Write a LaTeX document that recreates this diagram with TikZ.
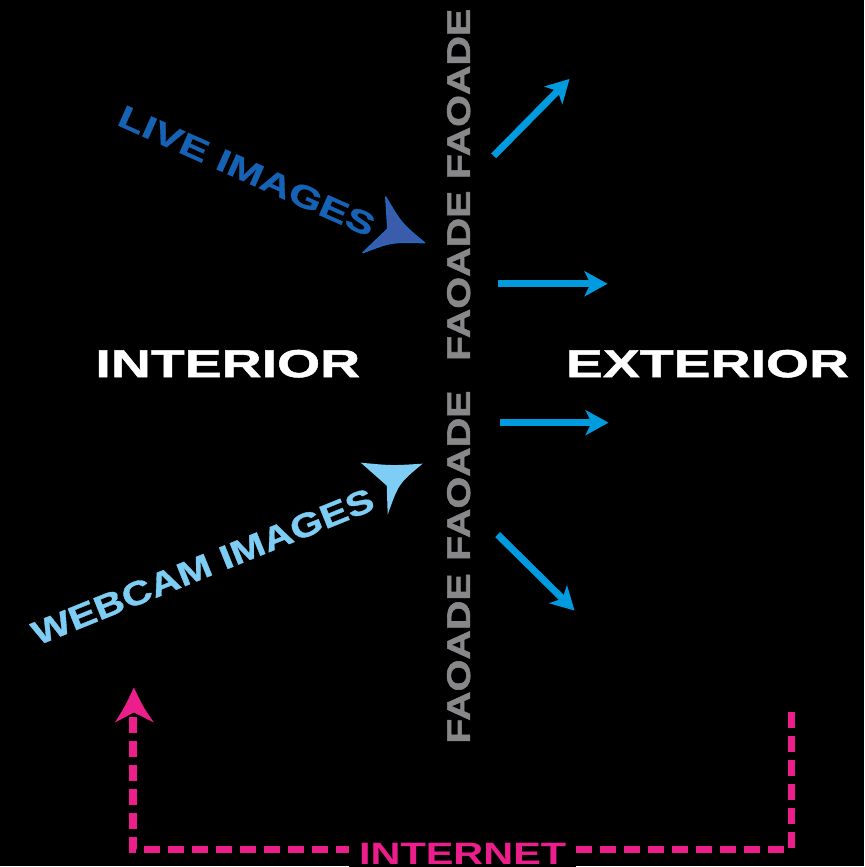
\documentclass[tikz,border=0pt]{standalone}
\usepackage{fontspec}
\usetikzlibrary{arrows.meta}
% wide, extended sans faces for the labels
\newfontfamily\widefont[FakeStretch=1.42,FakeBold=1.3]{Liberation Sans}
\newfontfamily\facadefont[FakeStretch=1.25,FakeBold=1.8]{Liberation Sans}
\newfontfamily\livefont[FakeStretch=1.36,FakeBold=1.0]{Liberation Sans}
\newfontfamily\webfont[FakeStretch=1.24,FakeBold=1.0]{Liberation Sans}
\newfontfamily\netfont[FakeStretch=1.34]{Liberation Sans}

\definecolor{facadegray}{RGB}{136,136,138}
\definecolor{rayblue}{RGB}{0,155,222}
\definecolor{liveblue}{RGB}{22,98,180}
\definecolor{livehead}{RGB}{58,92,170}
\definecolor{liveedge}{RGB}{28,108,198}
\definecolor{webblue}{RGB}{125,205,245}
\definecolor{netpink}{RGB}{236,30,140}

\tikzset{
  roomlabel/.style={text=white, inner sep=0pt,
    font=\widefont\bfseries\fontsize{11.1pt}{13pt}\selectfont},
  facadeword/.style={text=facadegray, inner sep=0pt, rotate=90,
    font=\facadefont\bfseries\fontsize{9.3pt}{11pt}\selectfont},
  ray/.style={draw=rayblue, line width=0.07cm,
    -{Stealth[length=0.23cm, width=0.25cm, inset=0.06cm]}},
  netline/.style={draw=netpink, line width=0.075cm,
    dash pattern=on 0.16cm off 0.08cm},
}

\begin{document}
\begin{tikzpicture}[x=0.01cm, y=-0.01cm]
  % background
  \fill[black] (0,0) rectangle (865,867);

  % room labels
  \node[roomlabel] (interior) at (228,364) {INTERIOR};
  \node[roomlabel] (exterior) at (708,364) {EXTERIOR};

  % the facade column
  \node[facadeword] (f1) at (459,94)  {FAOADE};
  \node[facadeword] (f2) at (459,276) {FAOADE};
  \node[facadeword] (f3) at (459,476) {FAOADE};
  \node[facadeword] (f4) at (459,659) {FAOADE};

  % rays leaving the facade
  \coordinate (r1s) at (494,156); \coordinate (r1e) at (570,79);
  \coordinate (r2s) at (498,284); \coordinate (r2e) at (608,284);
  \coordinate (r3s) at (500,423); \coordinate (r3e) at (609,423);
  \coordinate (r4s) at (498,535); \coordinate (r4e) at (575,611);
  \draw[ray] (r1s) -- (r1e);
  \draw[ray] (r2s) -- (r2e);
  \draw[ray] (r3s) -- (r3e);
  \draw[ray] (r4s) -- (r4e);

  % live images label and its head
  \node[text=liveblue, inner sep=0pt, rotate=-24,
        font=\livefont\bfseries\fontsize{9pt}{10pt}\selectfont]
        (live) at (247,171) {LIVE IMAGES};
  \filldraw[fill=livehead, draw=liveedge, line width=0.012cm, line join=round]
    (386,197) .. controls (402,224) .. (425,243)
              .. controls (392,242) .. (363,253)
              -- (388,229) -- cycle;

  % webcam images label and its head
  \node[text=webblue, inner sep=0pt, rotate=22,
        font=\webfont\bfseries\fontsize{9.5pt}{11pt}\selectfont]
        (webcam) at (203,567) {WEBCAM IMAGES};
  \fill[webblue]
    (361,463) .. controls (392,466) .. (423,464)
              .. controls (399,484) .. (388,515)
              -- (387,486) -- cycle;

  % internet loop back to the interior
  \coordinate (netR) at (792,713);
  \coordinate (netBR) at (792,850);
  \coordinate (netBL) at (133,850);
  \coordinate (netL) at (133,714);
  \draw[netline] (netR) -- (netBR) -- (netBL) -- (netL);
  \fill[netpink] (134,688) .. controls (143,707) .. (154,723)
                 -- (134,713) -- (115,723)
                 .. controls (125,707) .. cycle;
  \node[fill=black, text=netpink, inner xsep=0.1cm, inner ysep=0.03cm,
        font=\netfont\bfseries\fontsize{8.8pt}{10pt}\selectfont]
        (internet) at (463,854) {INTERNET};
\end{tikzpicture}
\end{document}
